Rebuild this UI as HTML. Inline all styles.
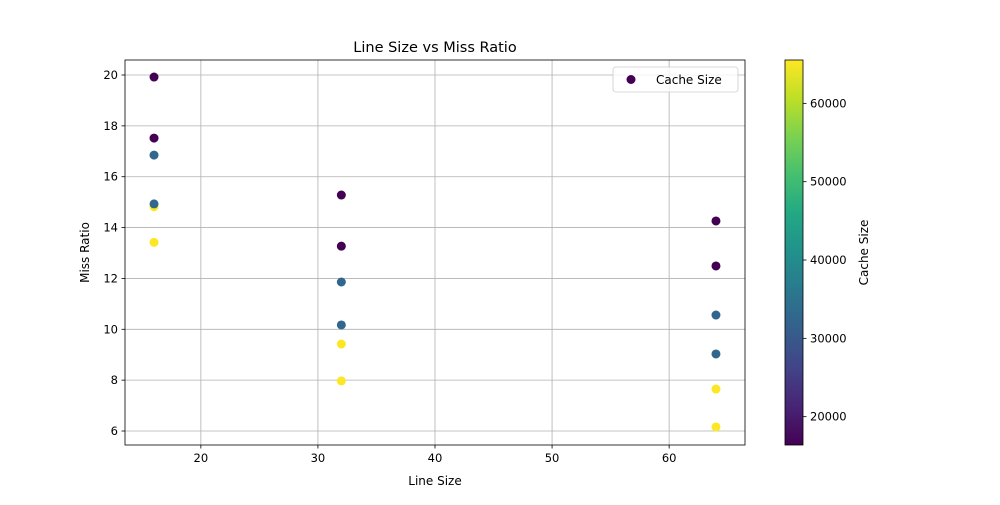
<!DOCTYPE html>
<html><head><meta charset="utf-8"><style>
body{margin:0;background:#fff}
svg text{font-family:"DejaVu Sans","Liberation Sans",sans-serif;fill:#000}
</style></head><body>
<svg id="c" width="1000" height="500" xmlns="http://www.w3.org/2000/svg">
<defs><linearGradient id="vir" x1="0" y1="1" x2="0" y2="0">
<stop offset="0" stop-color="#440154"/><stop offset="0.1" stop-color="#482475"/><stop offset="0.2" stop-color="#414487"/><stop offset="0.3" stop-color="#355f8d"/><stop offset="0.4" stop-color="#2a788e"/><stop offset="0.5" stop-color="#21918c"/><stop offset="0.6" stop-color="#22a884"/><stop offset="0.7" stop-color="#44bf70"/><stop offset="0.8" stop-color="#7ad151"/><stop offset="0.9" stop-color="#bddf26"/><stop offset="1" stop-color="#fde725"/>
</linearGradient></defs>
</svg>
<script>
const lineSizes=[16,16,16,16,16,16,32,32,32,32,32,32,64,64,64,64,64,64];
const missRatios=[19.92,17.52,16.85,14.82,14.93,13.42,15.28,13.27,11.86,9.42,10.17,7.97,14.26,12.49,10.56,7.65,9.03,6.16];
const cacheSizes=[16384,16384,32768,65536,32768,65536,16384,16384,32768,65536,32768,65536,16384,16384,32768,65536,32768,65536];
const xTicks=[20,30,40,50,60];
const yTicks=[6,8,10,12,14,16,18,20];
const cTicks=[20000,30000,40000,50000,60000];
const L=125,R=745,T=60,B=445;
const xMin=13.52,xMax=66.48,yMin=5.45,yMax=20.59,cMin=16384,cMax=65536;
const X=v=>L+(v-xMin)/(xMax-xMin)*(R-L);
const Y=v=>B-(v-yMin)/(yMax-yMin)*(B-T);
const CY=v=>B-(v-cMin)/(cMax-cMin)*(B-T);
const vir=["#440154","#482475","#414487","#355f8d","#2a788e","#21918c","#22a884","#44bf70","#7ad151","#bddf26","#fde725"];
function hx(h){return [1,3,5].map(i=>parseInt(h.substr(i,2),16));}
function col(v){let t=(v-cMin)/(cMax-cMin)*10;let i=Math.min(9,Math.floor(t));let f=t-i;let a=hx(vir[i]),b=hx(vir[i+1]);return 'rgb('+a.map((x,k)=>Math.round(x+(b[k]-x)*f)).join(',')+')';}
const s=document.getElementById('c');const NS='http://www.w3.org/2000/svg';
function el(t,a,p){const e=document.createElementNS(NS,t);for(const k in a)e.setAttribute(k,a[k]);(p||s).appendChild(e);return e;}
function txt(x,y,str,a){const e=el('text',Object.assign({x:x,y:y,'font-size':12},a||{}));e.textContent=str;return e;}
const g=el('g',{});


xTicks.forEach(v=>{const l=el('line',{x1:X(v),x2:X(v),y1:T,y2:B,stroke:'#b0b0b0','stroke-width':0.8},g);


const tk=el('line',{x1:X(v),x2:X(v),y1:B,y2:B+3.5,stroke:'#000','stroke-width':0.8});


const t=txt(X(v),B+17,String(v),{'text-anchor':'middle','font-size':11.5});

});
yTicks.forEach(v=>{const l=el('line',{x1:L,x2:R,y1:Y(v),y2:Y(v),stroke:'#b0b0b0','stroke-width':0.8},g);


const tk=el('line',{x1:L-3.5,x2:L,y1:Y(v),y2:Y(v),stroke:'#000','stroke-width':0.8});


const t=txt(L-7,Y(v)+4,String(v),{'text-anchor':'end','font-size':11.5});

});
lineSizes.forEach((v,i)=>{const c=el('circle',{cx:X(v),cy:Y(missRatios[i]),r:4.5,fill:col(cacheSizes[i])});

});
const fr=el('rect',{x:L,y:T,width:R-L,height:B-T,fill:'none',stroke:'#000','stroke-width':0.8});


const ti=txt((L+R)/2,52,'Line Size vs Miss Ratio',{'text-anchor':'middle','font-size':14.5});


const xl=txt((L+R)/2,485,'Line Size',{'text-anchor':'middle'});


const yl=txt(0,0,'Miss Ratio',{'text-anchor':'middle',transform:'translate(89,'+((T+B)/2)+') rotate(-90)'});


const lg=el('g',{});


el('rect',{x:613,y:67,width:125,height:25,rx:3,fill:'#fff','fill-opacity':0.8,stroke:'#ccc','stroke-width':0.8},lg);
el('circle',{cx:631,cy:79.5,r:4.5,fill:'#440154'},lg);
const lt=txt(656,84,'Cache Size',{},lg);


const cb=el('rect',{x:785,y:T,width:18,height:B-T,fill:'url(#vir)',stroke:'#000','stroke-width':0.8});


cTicks.forEach(v=>{const tk=el('line',{x1:803,x2:806.5,y1:CY(v),y2:CY(v),stroke:'#000','stroke-width':0.8});


const t=txt(810,CY(v)+4,String(v),{'font-size':11.5});

});
const cl=txt(0,0,'Cache Size',{'text-anchor':'middle',transform:'translate(868,'+((T+B)/2)+') rotate(-90)'});


</script>
</body></html>
